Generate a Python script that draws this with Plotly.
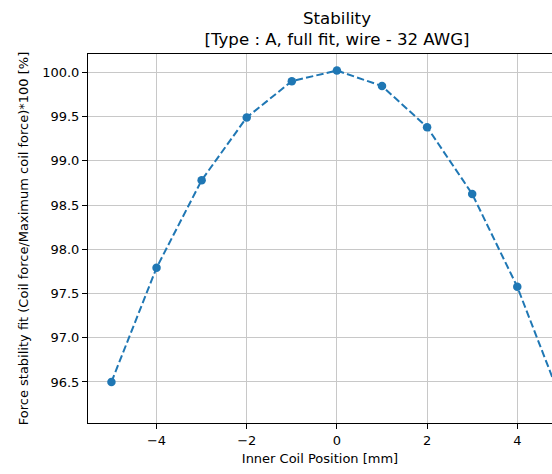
import plotly.graph_objects as go

positions = [-5, -4, -3, -2, -1, 0, 1, 2, 3, 4, 5]
stability = [96.50, 97.79, 98.78, 99.49, 99.90, 100.02, 99.845, 99.38, 98.625, 97.575, 96.26]

x_ticks = [-4, -2, 0, 2, 4]
y_ticks = [96.5, 97.0, 97.5, 98.0, 98.5, 99.0, 99.5, 100.0]

title_text = "Stability<br>[Type : A, full fit, wire - 32 AWG]"
x_label = "Inner Coil Position [mm]"
y_label = "Force stability fit (Coil force/Maximum coil force)*100 [%]"

FONT = "DejaVu Sans"

fig = go.Figure()
fig.add_trace(go.Scatter(
    x=positions, y=stability, mode="lines+markers",
    line=dict(color="#1f77b4", width=2, dash="7.4px,3.2px"),
    marker=dict(color="#1f77b4", size=8.5),
    cliponaxis=True, showlegend=False,
))

fig.update_layout(
    width=552, height=474,
    margin=dict(l=88, r=0, t=54, b=51),
    paper_bgcolor="white", plot_bgcolor="white",
    font=dict(family=FONT, size=13, color="black"),
    title=dict(text=title_text, x=337/552, xanchor="center", xref="container",
               y=1 - 23.5/474, yanchor="top", yref="container",
               font=dict(family=FONT, size=16.6, color="black")),
    xaxis=dict(
        range=[-5.52, 4.77], tickvals=x_ticks,
        showgrid=True, gridcolor="#c8c8c8", gridwidth=1,
        showline=True, linecolor="black", linewidth=1, mirror=True,
        ticks="outside", ticklen=5, tickcolor="black", tickwidth=1,
        zeroline=False,
        title=dict(text=x_label, standoff=7, font=dict(size=13)),
        tickfont=dict(size=13),
    ),
    yaxis=dict(
        range=[96.036, 100.207], tickvals=y_ticks, tickformat=".1f",
        showgrid=True, gridcolor="#c8c8c8", gridwidth=1,
        showline=True, linecolor="black", linewidth=1, mirror=False,
        ticks="outside", ticklen=5, tickcolor="black", tickwidth=1,
        zeroline=False,
        title=dict(text=y_label, standoff=10, font=dict(size=13)),
        tickfont=dict(size=13),
    ),
)

fig.write_html("out.html")
